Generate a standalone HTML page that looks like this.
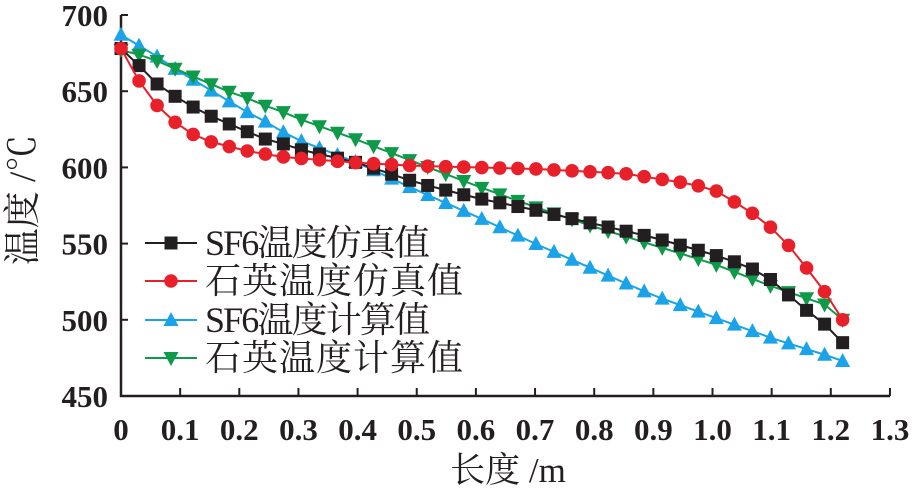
<!DOCTYPE html><html><head><meta charset="utf-8"><style>body{margin:0;background:#fff}svg{display:block}text{font-family:"Liberation Serif","Noto Serif CJK SC",serif;fill:#231f20}</style></head><body>
<svg id="s" width="913" height="492" xmlns="http://www.w3.org/2000/svg"></svg>
<script>
const s=document.getElementById('s');let h='';
const X=v=>121+v*591.5, Y=v=>15+(700-v)*76.2/50;
h+=`<path d="M121 15V396H890" fill="none" stroke="#231f20" stroke-width="2.5"/>`;
[700,650,600,550,500,450].forEach(v=>{h+=`<line x1="121" x2="128" y1="${Y(v)}" y2="${Y(v)}" stroke="#231f20" stroke-width="2"/><text x="108" y="${Y(v)+11}" font-size="31" font-weight="bold" text-anchor="end">${v}</text>`});
for(let i=0;i<=13;i++){const x=X(i/10);if(i>0)h+=`<line x1="${x}" x2="${x}" y1="396" y2="388" stroke="#231f20" stroke-width="2"/>`;h+=`<text x="${x}" y="440" font-size="31" font-weight="bold" text-anchor="middle">${i==0?'0':(i/10).toFixed(1)}</text>`}
h+=`<text x="508" y="482" font-size="35" text-anchor="middle">长度 /m</text>`;
h+=`<text transform="translate(35,200) rotate(-90)" font-size="37" text-anchor="middle">温度 /℃</text>`;
const D={
k:[[0,678],[.03,667],[.06,655],[.09,647],[.12,640],[.15,634],[.18,629],[.21,624],[.24,619],[.27,616],[.3,612],[.4,603],[.5,590],[.6,580],[.7,572],[.8,563],[.9,554],[1,543],[1.06,535],[1.1,526],[1.153,508],[1.19,497],[1.22,485]],
r:[[0,678],[.03,657],[.06,641],[.09,630],[.12,622],[.15,617],[.18,614],[.21,611],[.24,609],[.27,607],[.3,606],[.4,603],[.5,601],[.6,600],[.7,599],[.8,597],[.85,596],[.9,593],[.95,590],[1,586],[1.03,579],[1.06,572],[1.092,563],[1.124,551],[1.153,537],[1.187,520],[1.22,500]],
c:[[0,687],[.03,680],[.06,673],[.09,665],[.12,658],[.15,651],[.18,644],[.21,637],[.24,631],[.27,624],[.3,618],[.4,603],[.5,585],[.6,568],[.7,550],[.8,533],[.9,516],[1,502],[1.1,488],[1.19,477],[1.22,473]],
g:[[0,677],[.03,674],[.06,670],[.09,665],[.12,660],[.15,655],[.18,650],[.21,646],[.24,641],[.27,637],[.3,632],[.4,618],[.5,603],[.6,588],[.7,574],[.8,561],[.9,549],[1,537],[1.1,522],[1.19,510],[1.22,500]]};
const f=(p,x)=>{for(let i=0;i<p.length-1;i++)if(x<=p[i+1][0]+1e-9){const t=(x-p[i][0])/(p[i+1][0]-p[i][0]);return p[i][1]+t*(p[i+1][1]-p[i][1])}return p[p.length-1][1]};
const col={k:'#231f20',r:'#e8202a',c:'#1aa3e8',g:'#0e9a48'};
const mk=(t,x,y)=>t=='k'?`<rect x="${x-6.5}" y="${y-6.5}" width="13" height="13" fill="#231f20"/>`:t=='r'?`<circle cx="${x}" cy="${y}" r="6.8" fill="#e8202a"/>`:t=='c'?`<path d="M${x} ${y-8}L${x+7.5} ${y+6}H${x-7.5}Z" fill="#1aa3e8"/>`:`<path d="M${x} ${y+8}L${x+7.5} ${y-6}H${x-7.5}Z" fill="#0e9a48"/>`;
['c','g','k','r'].forEach(t=>{let pts=[];for(let i=0;i<=40;i++){const x=i*1.22/40;pts.push([X(x),Y(f(D[t],x))])}
h+=`<polyline points="${pts.map(p=>p.join(',')).join(' ')}" fill="none" stroke="${col[t]}" stroke-width="2"/>`;pts.forEach(p=>h+=mk(t,p[0],p[1]))});
[['k','SF6温度仿真值',243],['r','石英温度仿真值',281],['c','SF6温度计算值',320],['g','石英温度计算值',358]].forEach(([t,l,y])=>{h+=`<line x1="145" x2="197" y1="${y}" y2="${y}" stroke="${col[t]}" stroke-width="2"/>`+mk(t,171,y)+`<text x="205" y="${y+12}" font-size="36" textLength="${l.startsWith('SF6')?225:258}">${l}</text>`});
s.innerHTML=h;
</script></body></html>
